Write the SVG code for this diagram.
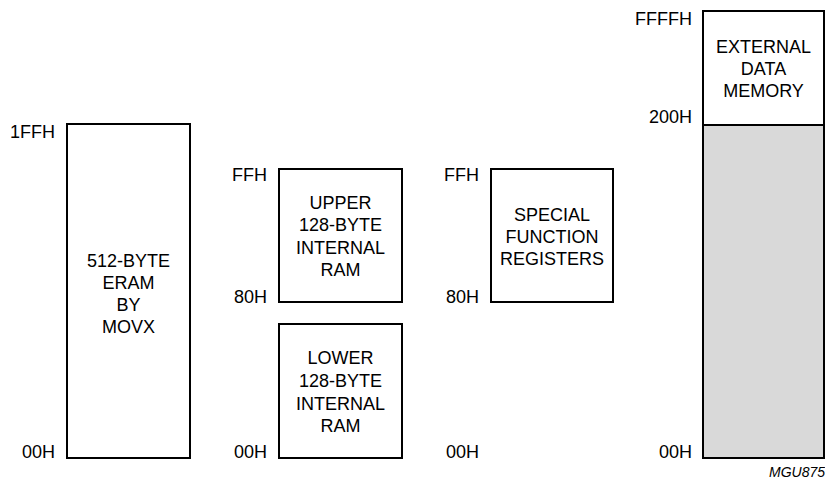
<svg xmlns="http://www.w3.org/2000/svg" width="825" height="484" viewBox="0 0 825 484">
<style>
text{font-family:"Liberation Sans",Arial,sans-serif;font-size:18px;fill:#000}
.c{text-anchor:middle}
.r{text-anchor:end}
.box{fill:#fff;stroke:#000;stroke-width:2}
.gray{fill:#d9d9d9;stroke:#000;stroke-width:2}
.note{font-size:14px;font-style:italic}
</style>
<rect width="825" height="484" fill="#fff"/>
<g id="eram">
<rect class="box" x="67" y="124" width="123" height="334"/>
<text class="r" x="55" y="138">1FFH</text>
<text class="r" x="55" y="458">00H</text>
<text class="c" x="128.5" y="267">512-BYTE</text>
<text class="c" x="128.5" y="289">ERAM</text>
<text class="c" x="128.5" y="311">BY</text>
<text class="c" x="128.5" y="333">MOVX</text>
</g>
<g id="upper-ram">
<rect class="box" x="279" y="169" width="123" height="133"/>
<text class="r" x="267" y="181">FFH</text>
<text class="r" x="267" y="303">80H</text>
<text class="c" x="340.5" y="209">UPPER</text>
<text class="c" x="340.5" y="231">128-BYTE</text>
<text class="c" x="340.5" y="254">INTERNAL</text>
<text class="c" x="340.5" y="276">RAM</text>
</g>
<g id="lower-ram">
<rect class="box" x="279" y="324" width="123" height="134"/>
<text class="r" x="267" y="458">00H</text>
<text class="c" x="340.5" y="364">LOWER</text>
<text class="c" x="340.5" y="387">128-BYTE</text>
<text class="c" x="340.5" y="410">INTERNAL</text>
<text class="c" x="340.5" y="432">RAM</text>
</g>
<g id="sfr">
<rect class="box" x="491" y="169" width="122" height="133"/>
<text class="r" x="479" y="181">FFH</text>
<text class="r" x="479" y="303">80H</text>
<text class="r" x="479" y="458">00H</text>
<text class="c" x="552" y="221">SPECIAL</text>
<text class="c" x="552" y="243">FUNCTION</text>
<text class="c" x="552" y="265">REGISTERS</text>
</g>
<g id="external">
<rect class="gray" x="703" y="125" width="121" height="333"/>
<rect class="box" x="703" y="11" width="121" height="114"/>
<text class="r" x="692" y="25">FFFFH</text>
<text class="r" x="692" y="123">200H</text>
<text class="r" x="692" y="458">00H</text>
<text class="c" x="763.5" y="53">EXTERNAL</text>
<text class="c" x="763.5" y="75">DATA</text>
<text class="c" x="763.5" y="97">MEMORY</text>
</g>
<text class="note r" x="825" y="477">MGU875</text>
</svg>
